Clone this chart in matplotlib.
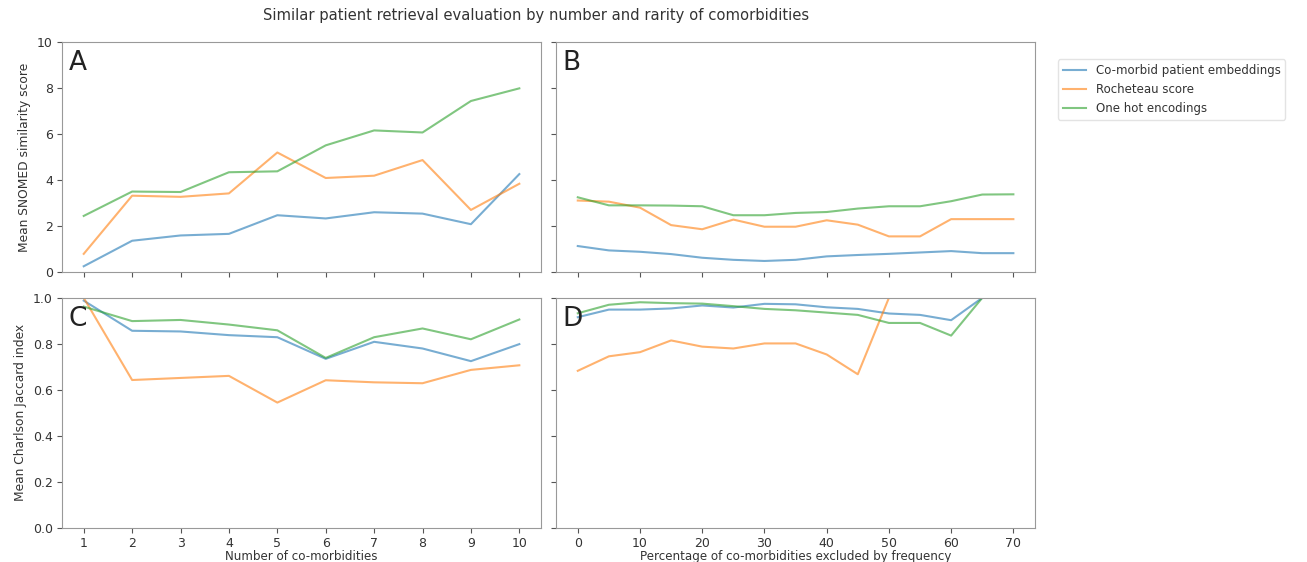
import numpy as np
import matplotlib
matplotlib.use('Agg')
import matplotlib.pyplot as plt

# data
n_comorb = [1, 2, 3, 4, 5, 6, 7, 8, 9, 10]
pct_excl = [0, 5, 10, 15, 20, 25, 30, 35, 40, 45, 50, 55, 60, 65, 70]

snomed_num_emb = [0.25, 1.36, 1.59, 1.66, 2.47, 2.33, 2.60, 2.54, 2.08, 4.26]
snomed_num_roch = [0.79, 3.32, 3.27, 3.42, 5.20, 4.09, 4.19, 4.87, 2.70, 3.84]
snomed_num_onehot = [2.44, 3.50, 3.48, 4.34, 4.38, 5.51, 6.16, 6.07, 7.44, 7.99]

snomed_pct_emb = [1.13, 0.94, 0.88, 0.78, 0.62, 0.53, 0.48, 0.53, 0.68, 0.74, 0.79, 0.85, 0.91, 0.82, 0.82]
snomed_pct_roch = [3.11, 3.06, 2.80, 2.04, 1.86, 2.28, 1.97, 1.97, 2.25, 2.06, 1.55, 1.55, 2.30, 2.30, 2.30]
snomed_pct_onehot = [3.25, 2.90, 2.90, 2.89, 2.86, 2.47, 2.47, 2.57, 2.61, 2.76, 2.86, 2.86, 3.08, 3.37, 3.38]

jacc_num_emb = [0.988, 0.857, 0.854, 0.838, 0.829, 0.735, 0.809, 0.780, 0.725, 0.799]
jacc_num_roch = [1.0, 0.643, 0.652, 0.661, 0.545, 0.642, 0.633, 0.629, 0.687, 0.707]
jacc_num_onehot = [0.962, 0.899, 0.904, 0.884, 0.859, 0.739, 0.829, 0.867, 0.820, 0.906]

jacc_pct_emb = [0.916, 0.949, 0.949, 0.954, 0.967, 0.958, 0.974, 0.972, 0.959, 0.952, 0.932, 0.926, 0.903, 1.0, 1.0]
jacc_pct_roch = [0.683, 0.746, 0.764, 0.815, 0.788, 0.780, 0.802, 0.802, 0.754, 0.668, 1.0, 1.0, 1.0, 1.0, 1.0]
jacc_pct_onehot = [0.933, 0.970, 0.981, 0.977, 0.975, 0.964, 0.952, 0.946, 0.936, 0.926, 0.891, 0.891, 0.836, 1.0, 1.0]

labels = ['Co-morbid patient embeddings', 'Rocheteau score', 'One hot encodings']
colors = ['tab:blue', 'tab:orange', 'tab:green']

plt.rcParams['font.family'] = 'DejaVu Sans'
plt.rcParams['text.color'] = '#333333'
plt.rcParams['axes.labelcolor'] = '#333333'
plt.rcParams['xtick.color'] = '#333333'
plt.rcParams['ytick.color'] = '#333333'

fig = plt.figure(figsize=(13.07, 5.62), dpi=100)
axA = fig.add_axes([0.0474, 0.516, 0.3666, 0.409])
axB = fig.add_axes([0.4254, 0.516, 0.3666, 0.409], sharey=axA)
axC = fig.add_axes([0.0474, 0.0605, 0.3666, 0.4095], sharex=axA)
axD = fig.add_axes([0.4254, 0.0605, 0.3666, 0.4095], sharex=axB, sharey=axC)

panels = [
    (axA, n_comorb, [snomed_num_emb, snomed_num_roch, snomed_num_onehot], 'A'),
    (axB, pct_excl, [snomed_pct_emb, snomed_pct_roch, snomed_pct_onehot], 'B'),
    (axC, n_comorb, [jacc_num_emb, jacc_num_roch, jacc_num_onehot], 'C'),
    (axD, pct_excl, [jacc_pct_emb, jacc_pct_roch, jacc_pct_onehot], 'D'),
]

for ax, xs, series, letter in panels:
    for ys, c, lab in zip(series, colors, labels):
        ax.plot(xs, ys, color=c, alpha=0.6, lw=1.5, label=lab)
    ax.text(0.014, 0.965, letter, transform=ax.transAxes, fontsize=19,
            va='top', ha='left', color='#222222')
    for s in ax.spines.values():
        s.set_color('#999999')
    ax.tick_params(labelsize=9, color='#555555', pad=3)

axA.set_ylim(0, 10)
axA.set_yticks([0, 2, 4, 6, 8, 10])
axC.set_ylim(0, 1.0)
axC.set_yticks([0.0, 0.2, 0.4, 0.6, 0.8, 1.0])
axA.set_xticks(n_comorb)
axB.set_xticks([0, 10, 20, 30, 40, 50, 60, 70])

axA.tick_params(labelbottom=False)
axB.tick_params(labelbottom=False, labelleft=False)
axD.tick_params(labelleft=False)

axA.set_ylabel('Mean SNOMED similarity score', fontsize=8.8)
axC.set_ylabel('Mean Charlson Jaccard index', fontsize=8.8)
axC.set_xlabel('Number of co-morbidities', fontsize=8.6, labelpad=0)
axD.set_xlabel('Percentage of co-morbidities excluded by frequency', fontsize=8.6, labelpad=0)

fig.suptitle('Similar patient retrieval evaluation by number and rarity of comorbidities',
             fontsize=10.6, x=0.41, y=0.985)

handles, labs = axA.get_legend_handles_labels()
fig.legend(handles, labs, loc='upper left', bbox_to_anchor=(0.805, 0.905),
           fontsize=8.5, frameon=True, edgecolor='#dddddd')

fig.savefig('out.png', dpi=100)
